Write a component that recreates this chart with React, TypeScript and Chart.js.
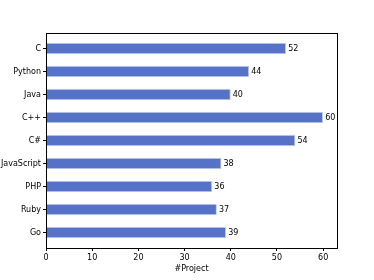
import React, { useEffect, useRef } from "react";
import { Chart, registerables } from "chart.js";

Chart.register(...registerables);

const categories = ["C", "Python", "Java", "C++", "C#", "JavaScript", "PHP", "Ruby", "Go"];
const projectCounts = [52, 44, 40, 60, 54, 38, 36, 37, 39];
const xTicks = [0, 10, 20, 30, 40, 50, 60];
const xAxisTitle = "#Project";

const FONT = "'DejaVu Sans', sans-serif";

const framePlugin = {
  id: "frame",
  afterDraw(chart: any) {
    const { ctx, chartArea } = chart;
    ctx.save();
    ctx.strokeStyle = "#000";
    ctx.lineWidth = 1;
    ctx.strokeRect(
      Math.round(chartArea.left) + 0.5,
      Math.round(chartArea.top) + 0.5,
      Math.round(chartArea.right - chartArea.left),
      Math.round(chartArea.bottom - chartArea.top)
    );
    ctx.restore();
  },
};

const valueLabelPlugin = {
  id: "valueLabels",
  afterDatasetsDraw(chart: any) {
    const { ctx } = chart;
    const meta = chart.getDatasetMeta(0);
    ctx.save();
    ctx.fillStyle = "#000";
    ctx.font = `8px ${FONT}`;
    ctx.textAlign = "left";
    ctx.textBaseline = "middle";
    meta.data.forEach((el: any, i: number) => {
      ctx.fillText(String(projectCounts[i]), el.x + 2, el.y);
    });
    ctx.restore();
  },
};

export default function App() {
  const ref = useRef<HTMLCanvasElement>(null);
  useEffect(() => {
    if (!ref.current) return;
    const chart = new Chart(ref.current, {
      type: "bar",
      data: {
        datasets: [
          {
            data: projectCounts.map((v, i) => ({ x: v, y: i })),
            backgroundColor: "#5571c8",
            borderColor: "#c5cdee",
            borderWidth: 1,
            barPercentage: 0.5,
            categoryPercentage: 1,
          },
        ],
      },
      options: {
        indexAxis: "y",
        animation: false,
        responsive: false,
        maintainAspectRatio: false,
        layout: { padding: { top: 33, right: 37, left: 0, bottom: 0 } },
        plugins: {
          legend: { display: false },
          tooltip: { enabled: false },
        },
        scales: {
          x: {
            type: "linear",
            min: 0,
            max: 63,
            offset: false,
            afterBuildTicks: (scale: any) => {
              scale.ticks = xTicks.map((v) => ({ value: v }));
            },
            afterFit: (scale: any) => {
              scale.height = 32;
            },
            grid: {
              offset: false,
              drawOnChartArea: false,
              drawTicks: true,
              tickLength: 3,
              color: "#000",
            },
            border: { display: false },
            ticks: {
              color: "#000",
              padding: 2,
              font: { family: FONT, size: 8 },
              maxRotation: 0,
            },
            title: {
              display: true,
              text: xAxisTitle,
              color: "#000",
              font: { family: FONT, size: 8 },
              padding: { top: 0, bottom: 6 },
            },
          },
          y: {
            type: "linear",
            reverse: true,
            offset: false,
            min: -0.675,
            max: 8.675,
            afterBuildTicks: (scale: any) => {
              scale.ticks = categories.map((_, i) => ({ value: i }));
            },
            afterFit: (scale: any) => {
              scale.width = 46;
            },
            grid: {
              offset: false,
              drawOnChartArea: false,
              drawTicks: true,
              tickLength: 3,
              color: "#000",
            },
            border: { display: false },
            ticks: {
              color: "#000",
              padding: 2,
              font: { family: FONT, size: 8 },
              callback: (v: any) => categories[v] ?? "",
            },
          },
        },
      },
      plugins: [framePlugin, valueLabelPlugin],
    } as any);
    return () => chart.destroy();
  }, []);
  return (
    <div style={{ position: "fixed", left: 0, top: 0, width: 374, height: 280, background: "#fff" }}>
      <canvas ref={ref} width={374} height={280} style={{ display: "block" }} />
    </div>
  );
}
